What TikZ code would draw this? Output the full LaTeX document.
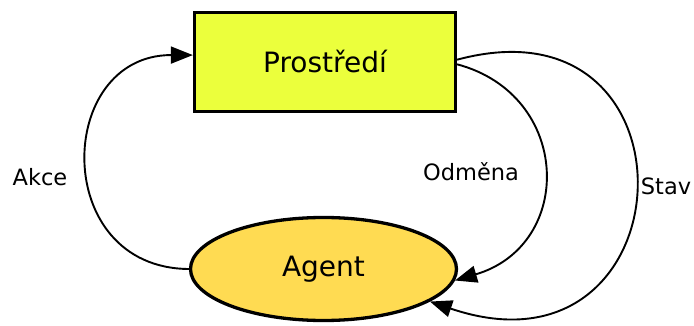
\documentclass[tikz,border=0pt]{standalone}
\usepackage{fontspec}
\setmainfont{DejaVu Sans}
\usetikzlibrary{arrows.meta,shapes.geometric}
\definecolor{envfill}{RGB}{235,255,60}
\definecolor{agentfill}{RGB}{255,219,82}
\begin{document}
\begin{tikzpicture}[x=1pt,y=-1pt,
  envbox/.style={draw,line width=3.3pt,fill=envfill,rectangle,inner sep=0pt,
    minimum width=261pt,minimum height=99pt,font=\fontsize{28}{32}\selectfont},
  agentbox/.style={draw,line width=3.3pt,fill=agentfill,ellipse,inner sep=0pt,
    minimum width=266pt,minimum height=103pt,font=\fontsize{28}{32}\selectfont},
  flow/.style={line width=1.9pt,-{Triangle[length=22pt,width=17pt]}},
  lbl/.style={font=\fontsize{22.5}{26}\selectfont}]
  \useasboundingbox (0,0) rectangle (694,326);
  \node[envbox] (env) at (325,62) {Prostředí};
  \node[agentbox] (agent) at (323.5,269) {Agent};
  % action: agent -> environment
  \draw[flow] (agent.west) .. controls (50,268) and (55,55) .. (env.177);
  % reward and state: environment -> agent
  \draw[flow] (env.-1) .. controls (572,95) and (575,245) .. (agent.-5);
  \draw[flow] (env.1) .. controls (708,-8) and (690,390) .. (agent.-17);
  \node[lbl] (akce) at (40,177) {Akce};
  \node[lbl] (odmena) at (471,172) {Odměna};
  \node[lbl] (stav) at (666,186) {Stav};
\end{tikzpicture}
\end{document}
